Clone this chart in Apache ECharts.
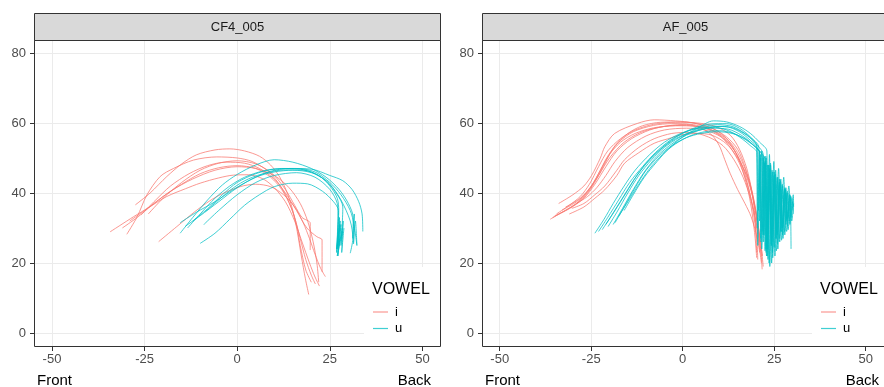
<!DOCTYPE html>
<html>
<head>
<meta charset="utf-8">
<script src="https://cdn.jsdelivr.net/npm/echarts@6/dist/echarts.min.js"></script>
<style>
  html, body { margin: 0; padding: 0; background: #fff; }
  #chart { width: 884px; height: 387px; }
</style>
</head>
<body>
<div id="chart"></div>
<script>
// facets and axes
var panels = ['CF4_005', 'AF_005'];
var vowels = ['i', 'u'];
var xTicks = [-50, -25, 0, 25, 50];
var yTicks = [0, 20, 40, 60, 80];

// CF4_005, vowel i
var cf4I = [
  [[-27.5,36.6],[-23.5,40],[-19,44.7],[-15,48.3],[-11,50.9],[-6,52.3],[-2,52.6],[2,52],[6,50.5],[9,48],[11.5,44.5],[13.5,40],[15,35],[16.2,29],[17.3,22],[18.4,15.5],[19.3,11]],
  [[-29.8,28.2],[-27,33.2],[-24.4,39.4],[-20.8,44.7],[-17.2,47],[-11.8,49.4],[-5.5,50.3],[0,50],[4,49],[8,46.5],[11,43],[13.5,38.5],[15.5,33],[17,27],[18.5,21],[20,16.5],[21.1,14]],
  [[-34.3,28.9],[-28,33.2],[-23.5,36.1],[-19,39],[-14,41.2],[-10,42.8],[-5,44.3],[-1,45.1],[3,45.2],[7,44],[10,41.5],[13,37.5],[15.5,32],[17.5,26],[19.5,20],[21,16],[22.2,13.4]],
  [[-21.2,26.1],[-16.3,30.4],[-10.9,35.1],[-5.5,39],[0.8,41.8],[5,42.5],[9,41.8],[12.5,39.5],[15.5,36],[17.8,31.5],[19.5,27],[21,22.5],[22.5,18.5],[23.8,16.1]],
  [[-26,33.7],[-22,38],[-18,42],[-13,45.5],[-8,47.8],[-3,48.8],[2,48.5],[6,47],[10,44],[13,40],[16,35],[18.8,30],[21.5,27.5],[22.9,26.6],[22.9,20],[22.9,17.5]],
  [[-29,32],[-25,35],[-20,39],[-15,42.5],[-10,45.5],[-5,47.2],[0,47.8],[5,47],[9,44.5],[12,41],[14.5,36],[16,31],[17,25],[18.5,18],[20,14.5]],
  [[-24,34],[-20,38.5],[-15,43],[-10,46.5],[-5,48.5],[0,49.2],[5,48.3],[9.5,45.5],[13,41],[15.5,36.5],[17.5,33],[19.7,31.4],[19.7,27],[19.7,23.7]],
  [[-31,30],[-27,33],[-23,36.5],[-18,40.5],[-12,44],[-6,46.5],[0,47.5],[5,47],[10,45],[14,41.5],[17,37],[19,32],[20.5,26],[21.5,20],[22,14.5]]
];

// CF4_005, vowel u
var cf4U = [
  [[-15.4,28.5],[-12,33],[-8,38],[-4,42.3],[0,45.3],[5,48],[10,49.5],[15,48.8],[20,47],[24,44.5],[27.5,41],[30,37],[31.3,33],[31.2,27],[31.6,34],[31.4,25.5],[31.9,32],[32.3,25]],
  [[-13.4,30],[-10,34],[-6,38.5],[-2,42],[2,44.5],[7,46.3],[12,47],[17,46.8],[21,45.5],[25,42.5],[28,38],[30.5,32],[31.2,27],[30.5,22.8]],
  [[-10,25.6],[-6,28.5],[-2,32.5],[2,36.5],[6,39.5],[10,41.8],[15,42.8],[19,42.6],[23,40.5],[26,37.5],[27.3,35],[27,24],[27.6,33],[27.2,22],[28,31],[27.5,25],[28.3,30]],
  [[-8.6,34.7],[-5,38],[-1,41.5],[3,44],[8,45.8],[13,46.6],[18,46.5],[22,45],[25,42],[27,38.5],[27.4,35],[26.8,24],[27.8,32],[27,22],[28.4,29],[27.6,26]],
  [[-15.4,31.5],[-11,34.5],[-6,37.5],[-1,41],[4,44],[9,46.2],[14,47],[20,46.8],[25,45],[28.5,43.5],[31,41],[32.8,37.5],[33.7,34],[33.9,29]],
  [[-14,30.5],[-10,33.5],[-5,37.5],[0,41.5],[5,44.5],[10,46],[15,46.5],[20,45.8],[24,43.5],[27,39.5],[28.5,36],[28,25],[28.6,32],[28.2,23],[28.8,30]],
  [[-12,32],[-8,35.5],[-4,39.5],[0,43],[5,45.5],[10,46.8],[16,47],[21,46],[25,43],[28,39.5],[30.5,35],[31.5,31],[32.3,25]],
  [[-9,31],[-5,35],[0,39.5],[5,43],[10,45],[16,45.8],[21,44.5],[25,41],[27,37],[27.2,34],[26.8,23],[27.7,31],[27.3,24]]
];

// AF_005, vowel i
var afI = [
  [[-36.2,32.5],[-33,34.5],[-29,37],[-26,40],[-23.5,44],[-21,49],[-18.5,53.5],[-15,57],[-11,59.2],[-6,60.2],[0,60.3],[5,59.5],[9,58],[12,55.5],[14.5,51.5],[16.5,46],[18,40],[19,34],[19.8,27],[20.2,21.5]],
  [[-33.9,37],[-30,39.5],[-27,42],[-24.9,45],[-22.5,50],[-21.3,53.2],[-18.6,57],[-12.3,59.9],[-7.8,60.9],[-2,60.6],[3,60],[8,58.5],[12,56],[15,52.5],[17,47.5],[18.5,42],[19.8,35],[20.8,28],[21.4,23],[21.7,18.2]],
  [[-33,35.1],[-29,37.5],[-26,40.5],[-23,45],[-20,50],[-16,54.5],[-11,57.5],[-5,59],[1,59.3],[6,58.5],[10,56.5],[13,53],[15.5,48.5],[17.5,43],[19,37],[20.2,30],[21,24],[21.5,20]],
  [[-30.3,35.6],[-27,37],[-24,39.5],[-21.3,42],[-18,46.5],[-15.9,49.5],[-12,53],[-7.8,55.5],[-3,57],[2,57.3],[7,56],[11,53.5],[14,49.5],[16.5,44.5],[18.5,38.5],[20,32],[21,25.5],[21.5,22]],
  [[-31,34],[-27,36],[-24,38.5],[-21.3,40.9],[-18,45],[-15.9,48.5],[-12,51.5],[-7.8,54.2],[-3,55.8],[-0.6,56.6],[4,57],[8,56.5],[12,54],[15,50],[17.5,45],[19.2,39],[20.5,31],[21,26]],
  [[-35,33.5],[-31,35.5],[-27,38.5],[-24,42.5],[-21,47.5],[-18,52],[-14,55.5],[-9,58],[-4,59.2],[1,59.6],[5,58.5],[8,56.5],[10,53.5],[11.5,49.5],[13,45.5],[15,41],[17,37],[18.7,33.2],[20.5,26.6],[21,23]],
  [[-34.5,34],[-31,36.5],[-28,39],[-25.5,42.5],[-23,47.5],[-20.5,52],[-17,55.5],[-13,58],[-8,59.6],[-2,60.2],[4,60],[9,59],[13,56.5],[15.5,52.5],[17.5,47],[18.8,41],[19.6,35],[20,28],[20.2,23]],
  [[-32,36],[-28,38.5],[-25,42],[-22.5,46.5],[-20,51],[-17,54.5],[-13,57],[-8,58.6],[-2,59.2],[4,59],[9,57.5],[12.5,55],[15,51.5],[17,47],[18.7,41.5],[20,35],[21,28],[21.8,22]],
  [[-35.5,33],[-32,35],[-28.5,37.5],[-25.5,41],[-23,45.5],[-20.5,50.5],[-17.5,54.5],[-13.5,57.5],[-8,59.3],[-3,59.8],[3,59.5],[8,58],[12,55],[14.8,51],[16.8,46],[18.3,40],[19.5,33],[20.3,26],[20.5,21]],
  [[-29,37],[-26,39],[-23.5,41.5],[-21,45],[-18.5,49],[-15,53],[-10,56.3],[-5,58],[1,58.5],[6,58],[10.5,56],[13.5,53],[16,48.5],[18,43],[19.5,37],[20.7,30],[21.5,24],[22,19]]
];

// AF_005, vowel u
var afU = [
  [[-24,28.5],[-21.5,32.5],[-19,37],[-16,42],[-13,46.5],[-9,51],[-5,54.5],[-1,56.8],[3,58.2],[8,58.8],[12,58],[15.5,56],[18.5,53.5],[20.3,51.5],[20.5,25],[21.2,50],[21.6,24],[22.4,48.5],[22.9,22],[23.8,46.5],[24.3,26],[25.2,44.5],[25.8,28],[26.6,42.5],[27.3,30],[28.2,40],[28.8,33],[29.5,38.5]],
  [[-20.4,30.4],[-18,34.5],[-15,40],[-12,45],[-8.5,49.5],[-5,53],[-1,55.8],[3,57.5],[8,58.5],[12.5,58.2],[16,56.5],[19,54],[21,51.5],[21.3,27],[22,50],[22.5,23.5],[23.2,48],[23.6,20],[24.4,46.5],[25,24.5],[25.8,44.5],[26.4,27],[27.2,42.5],[27.8,29],[28.6,40.5],[29.2,32],[29.9,38.5]],
  [[-17.6,33.2],[-15,37.5],[-12,42.5],[-9,47],[-5.5,51],[-2,54],[2,56.3],[6,57.5],[10,57.8],[14,57],[17.5,55],[20.5,52.5],[22.5,49.5],[22.8,23],[23.4,48],[23.8,19],[24.6,46],[25.2,22],[26,44.5],[26.5,26],[27.3,42],[27.9,28],[28.7,40],[29.3,31],[30,37.5],[30.2,34]],
  [[-22,29.5],[-19.5,33.5],[-16.5,38.5],[-13.5,43.5],[-10,48.5],[-6,52.5],[-2,55.5],[2.5,57.5],[7,58.8],[11.5,59],[15.5,57.5],[18.5,55],[20.2,53],[20.4,30],[21,52],[21.4,26],[22.2,50.5],[22.8,24],[23.6,48],[24.2,25],[25,46],[25.6,27],[26.4,44],[27,29],[27.9,41.5],[28.5,32],[29.3,39.5],[29.6,24]],
  [[-19,31],[-16.5,35.5],[-13.5,41],[-10.5,46],[-7,50.5],[-3,54],[1,56.5],[5.5,58.2],[10,59],[14,58.5],[17.5,56.5],[20.5,53.5],[22,51],[22.2,28],[22.8,50],[23.3,21],[24,48],[24.5,23],[25.3,45.5],[25.9,25.5],[26.7,43.5],[27.3,28],[28.1,41],[28.7,30.5],[29.5,39],[30.1,35]],
  [[-16,35],[-13.5,39.5],[-10.5,44.5],[-7,49],[-3.5,53],[0,56],[4,58.5],[8.4,60.6],[12,60.3],[15.5,59],[18.5,57],[21,54.5],[23,52],[23.2,30],[23.7,51],[24.2,25],[24.9,49],[25.4,27],[26.2,47],[26.8,29],[27.6,44.5],[28.2,31],[29,42],[29.6,33],[30.2,39.5],[30.3,36]],
  [[-21,31],[-18.5,35],[-15.5,40],[-12.5,45],[-9,49.5],[-5,53.5],[-1,56.5],[3,58.5],[7.5,59.7],[12,59.8],[15.5,58.5],[18.5,56],[20.8,53],[21,32],[21.6,52],[22,28],[22.7,50.5],[23.2,24],[24,48.5],[24.6,21.5],[25.4,46.5],[26,24],[26.8,44],[27.4,27],[28.2,41.5],[28.8,29.5],[29.6,39]],
  [[-18.5,31.5],[-16,36],[-13,41.5],[-10,46.5],[-6.5,50.5],[-3,53.5],[1,55.8],[5,57],[9.5,57.5],[13.5,57],[17,55.5],[20,53],[21.8,50.5],[22,26],[22.6,49],[23.1,22],[23.8,47],[24.3,20],[25,45],[25.6,23.5],[26.4,43],[27,26.5],[27.8,41],[28.4,29],[29.2,39.5],[29.8,32],[30.3,37]],
  [[-23,29],[-20.5,33],[-17.5,38],[-14.5,43],[-11,47.5],[-7.5,51.5],[-3.5,55],[0.5,57.3],[5,58.8],[9.5,59.5],[13.5,59],[17,57],[19.8,54.5],[20.5,52],[20.7,35],[21.3,51],[21.7,29],[22.5,49],[23,25],[23.8,47],[24.3,27],[25.1,45],[25.7,28.5],[26.5,43],[27.1,30],[27.9,41],[28.5,32.5],[29.3,39]]
];

var colors = { i: '#F8766D', u: '#00BFC4' };
var panelLeft = [34, 482];
var panelTop = 40, panelW = 407, panelH = 307;

var myChart = echarts.init(document.getElementById('chart'), null, { renderer: 'canvas' });

var grids = [], xAxes = [], yAxes = [], series = [], graphics = [];

function addCurves(curves, vowel, idx) {
  curves.forEach(function(c) {
    series.push({
      type: 'line',
      name: vowel,
      xAxisIndex: idx,
      yAxisIndex: idx,
      data: c,
      showSymbol: false,
      smooth: 0.3,
      clip: false,
      silent: true,
      lineStyle: { color: colors[vowel], width: 1, opacity: 0.75 }
    });
  });
}

panels.forEach(function(name, i) {
  var L = panelLeft[i];
  grids.push({ left: L, top: panelTop, width: panelW, height: panelH, show: false });
  xAxes.push({
    type: 'value', gridIndex: i, min: -54.85, max: 55,
    axisLine: { show: false, onZero: false },
    axisTick: { show: true, length: 4, customValues: xTicks, lineStyle: { color: '#333' } },
    axisLabel: { customValues: xTicks, margin: 6, fontSize: 13, color: '#4D4D4D', fontFamily: 'Arial, Liberation Sans' },
    splitLine: { show: true, lineStyle: { color: '#EBEBEB', width: 1 } }
  });
  yAxes.push({
    type: 'value', gridIndex: i, min: -4, max: 83.7,
    axisLine: { show: false, onZero: false },
    axisTick: { show: true, length: 4, customValues: yTicks, lineStyle: { color: '#333' } },
    axisLabel: { customValues: yTicks, margin: 8, fontSize: 13, color: '#4D4D4D', fontFamily: 'Arial, Liberation Sans' },
    splitLine: { show: true, lineStyle: { color: '#EBEBEB', width: 1 } }
  });

  // strip
  graphics.push({
    type: 'rect', z: 20,
    shape: { x: L + 0.5, y: 13.5, width: panelW - 1, height: 27 },
    style: { fill: '#D9D9D9', stroke: '#333', lineWidth: 1 }
  });
  graphics.push({
    type: 'text', z: 21, x: L + panelW / 2, y: 27,
    style: { text: name, fontSize: 13, fill: '#1A1A1A', align: 'center', verticalAlign: 'middle', fontFamily: 'Arial, Liberation Sans' }
  });

  // legend box
  graphics.push({
    type: 'rect', z: 10,
    shape: { x: L + 330, y: 267, width: 80, height: 79 },
    style: { fill: '#fff' }
  });
  graphics.push({
    type: 'text', z: 11, x: L + 338, y: 290,
    style: { text: 'VOWEL', fontSize: 16, fill: '#000', verticalAlign: 'middle', fontFamily: 'Arial, Liberation Sans' }
  });
  vowels.forEach(function(v, k) {
    var yy = 312 + k * 16.5;
    graphics.push({
      type: 'line', z: 11,
      shape: { x1: L + 339, y1: yy, x2: L + 354, y2: yy },
      style: { stroke: colors[v], lineWidth: 1.2, opacity: 0.75 }
    });
    graphics.push({
      type: 'text', z: 11, x: L + 361, y: yy,
      style: { text: v, fontSize: 13, fill: '#000', verticalAlign: 'middle', fontFamily: 'Arial, Liberation Sans' }
    });
  });

  // panel border
  graphics.push({
    type: 'rect', z: 30,
    shape: { x: L + 0.5, y: panelTop + 0.5, width: panelW - 1, height: panelH - 1 },
    style: { fill: 'none', stroke: '#333', lineWidth: 1 }
  });

  // front / back
  graphics.push({
    type: 'text', z: 11, x: L + 3, y: 381,
    style: { text: 'Front', fontSize: 15, fill: '#000', verticalAlign: 'middle', fontFamily: 'Arial, Liberation Sans' }
  });
  graphics.push({
    type: 'text', z: 11, x: L + 397, y: 381,
    style: { text: 'Back', fontSize: 15, fill: '#000', align: 'right', verticalAlign: 'middle', fontFamily: 'Arial, Liberation Sans' }
  });
});

addCurves(cf4I, 'i', 0);
addCurves(cf4U, 'u', 0);
addCurves(afI, 'i', 1);
addCurves(afU, 'u', 1);

option = {
  animation: false,
  backgroundColor: '#fff',
  grid: grids,
  xAxis: xAxes,
  yAxis: yAxes,
  series: series,
  graphic: { elements: graphics }
};
myChart.setOption(option);
</script>
</body>
</html>
